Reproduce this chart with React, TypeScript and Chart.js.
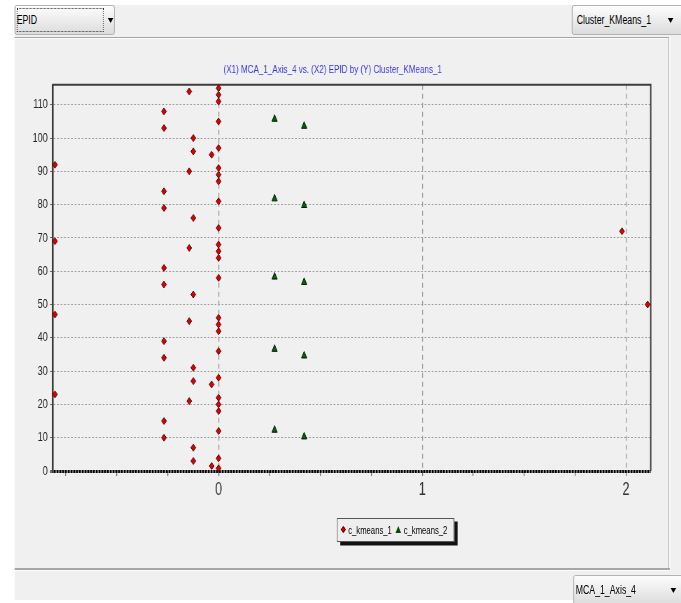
import React, { useEffect, useRef } from "react";
import { Chart, registerables } from "chart.js";

Chart.register(...registerables);

// ---------- data ----------
const chartTitle = "(X1) MCA_1_Axis_4 vs. (X2) EPID by (Y) Cluster_KMeans_1";
const seriesNames = ["c_kmeans_1", "c_kmeans_2"];
const xSelector = "EPID";
const ySelector = "Cluster_KMeans_1";
const axisSelector = "MCA_1_Axis_4";

const kmeans1X = [
  -0.803, -0.803, -0.803, -0.803,
  -0.268, -0.268, -0.268, -0.268, -0.268, -0.268, -0.268, -0.268, -0.268, -0.268,
  -0.144, -0.144, -0.144, -0.144, -0.144,
  -0.124, -0.124, -0.124, -0.124, -0.124, -0.124, -0.124, -0.124,
  -0.034, -0.034, -0.034,
  0, 0, 0, 0, 0, 0, 0, 0, 0, 0, 0, 0, 0, 0, 0, 0, 0, 0, 0, 0, 0, 0, 0, 0, 0,
  1.98, 2.106,
];
const kmeans1Y = [
  92, 69, 47, 23,
  108, 103, 84, 79, 61, 56, 39, 34, 15, 10,
  114, 90, 67, 45, 21,
  100, 96, 76, 53, 31, 27, 7, 3,
  95, 26, 1.5,
  115, 113, 111, 105, 97, 91, 89, 87, 81, 73, 68, 66, 64, 58, 46, 44, 42, 36, 28, 22, 20, 18, 12, 3.8, 0.8,
  72, 50,
];
const kmeans2X = [0.275, 0.42, 0.275, 0.42, 0.275, 0.42, 0.275, 0.42, 0.275, 0.42];
const kmeans2Y = [105.7, 103.6, 81.8, 79.8, 58.3, 56.7, 36.6, 34.6, 12.3, 10.3];

const xTicks = [-0.75, -0.5, -0.25, 0, 0.25, 0.5, 0.75, 1, 1.25, 1.5, 1.75, 2];
const xTickLabels = ["", "", "", "0", "", "", "", "1", "", "", "", "2"];
const yTicks = [0, 10, 20, 30, 40, 50, 60, 70, 80, 90, 100, 110];
const yTickLabels = ["0", "10", "20", "30", "40", "50", "60", "70", "80", "90", "100", "110"];
const xRange = [-0.814, 2.121];
const yRange = [0, 116];

// ---------- layout ----------
const SX = 0.7; // horizontal condensation of the whole picture
const ix = (px: number) => px / SX;
const FONT = "'Liberation Sans', Arial, sans-serif";

const CANVAS_W = 933;
const CANVAS_H = 530;

const framePlugin = {
  id: "frame",
  beforeDatasetsDraw(chart: any) {
    const { ctx, chartArea } = chart;
    const { left, right, top, bottom } = chartArea;
    ctx.save();
    ctx.strokeStyle = "#3c3c3c";
    ctx.lineWidth = 2;
    ctx.beginPath();
    ctx.moveTo(left, top);
    ctx.lineTo(right, top);
    ctx.lineTo(right, bottom);
    ctx.stroke();
    ctx.restore();
  },
};

function Dropdown(props: {
  x: number; y: number; w: number; h: number; label: string;
  textX: number; arrowX: number; focusW?: number;
}) {
  const { x, y, w, h, label, textX, arrowX, focusW } = props;
  return (
    <div
      style={{
        position: "absolute",
        left: ix(x),
        top: y,
        width: ix(w),
        height: h,
        boxSizing: "border-box",
        border: "1px solid #a8a8a8",
        borderRadius: 3,
        background: "linear-gradient(#fdfdfd, #dcdcdc)",
      }}
    >
      {focusW ? (
        <div
          style={{
            position: "absolute",
            left: ix(1),
            top: 2,
            width: ix(focusW),
            bottom: 2,
            boxSizing: "border-box",
            border: "1px dotted #333",
          }}
        />
      ) : null}
      <span
        style={{
          position: "absolute",
          left: ix(textX),
          top: 0,
          lineHeight: h - 2 + "px",
          fontSize: 12.5,
          color: "#000",
          whiteSpace: "nowrap",
        }}
      >
        {label}
      </span>
      <div
        style={{
          position: "absolute",
          left: ix(arrowX) - 4,
          top: (h - 2) / 2 - 2,
          width: 0,
          height: 0,
          borderLeft: "4px solid transparent",
          borderRight: "4px solid transparent",
          borderTop: "5px solid #000",
        }}
      />
    </div>
  );
}

export default function App() {
  const canvasRef = useRef<HTMLCanvasElement | null>(null);

  useEffect(() => {
    const canvas = canvasRef.current;
    if (!canvas) return;
    const chart = new Chart(canvas, {
      type: "scatter",
      data: {
        datasets: [
          {
            label: seriesNames[0],
            data: kmeans1X.map((x, i) => ({ x, y: kmeans1Y[i] })),
            pointStyle: "rectRot",
            pointRadius: 3.5,
            pointBackgroundColor: "#dd0000",
            pointBorderColor: "#4a0000",
            pointBorderWidth: 1,
            showLine: false,
            clip: false as any,
          },
          {
            label: seriesNames[1],
            data: kmeans2X.map((x, i) => ({ x, y: kmeans2Y[i] })),
            pointStyle: "triangle",
            pointRadius: 4.4,
            pointBackgroundColor: "#006400",
            pointBorderColor: "#001a00",
            pointBorderWidth: 1,
            showLine: false,
            clip: false as any,
          },
        ],
      },
      options: {
        animation: false,
        responsive: false,
        maintainAspectRatio: false,
        events: [],
        layout: { padding: { left: 0, right: 24.4, top: 0, bottom: 0 } },
        plugins: {
          legend: { display: false },
          tooltip: { enabled: false },
          title: {
            display: true,
            text: chartTitle,
            color: "#3535f5",
            font: { family: FONT, size: 11.5, weight: "normal" as any, lineHeight: 1.2 },
            padding: { top: 25, bottom: 8 },
          },
        },
        scales: {
          x: {
            type: "linear",
            min: xRange[0],
            max: xRange[1],
            afterBuildTicks: (s: any) => {
              s.ticks = xTicks.map((v) => ({ value: v }));
            },
            afterFit: (s: any) => {
              s.height = 97;
            },
            ticks: {
              autoSkip: false,
              maxRotation: 0,
              padding: 3,
              color: "#333",
              font: { family: FONT, size: 18 },
              callback: (_v: any, i: number) => xTickLabels[i],
            },
            grid: {
              color: (ctx: any) => (xTickLabels[ctx.index] ? "#9a9a9a" : "rgba(0,0,0,0)"),
              lineWidth: 1.3,
              tickColor: "#777",
              tickLength: 5,
              tickWidth: 1.3,
            },
            border: { display: false, dash: [5, 4] },
          },
          y: {
            type: "linear",
            min: yRange[0],
            max: yRange[1],
            afterBuildTicks: (s: any) => {
              s.ticks = yTicks.map((v) => ({ value: v }));
            },
            afterFit: (s: any) => {
              s.width = 54.3;
            },
            ticks: {
              autoSkip: false,
              padding: 3,
              color: "#222",
              font: { family: FONT, size: 13 },
              callback: (_v: any, i: number) => yTickLabels[i],
            },
            grid: {
              color: (ctx: any) => (ctx.tick && ctx.tick.value === 0 ? "#000" : "#9a9a9a"),
              lineWidth: (ctx: any) => (ctx.tick && ctx.tick.value === 0 ? 3 : 1),
              tickColor: "#666",
              tickLength: 4,
            },
            border: {
              display: true,
              color: "#3c3c3c",
              width: 2.6,
              dash: (ctx: any) => (ctx.tick && ctx.tick.value === 0 ? [3, 1] : [2.5, 2.5]),
            } as any,
          },
        },
      },
      plugins: [framePlugin],
    });
    return () => chart.destroy();
  }, []);

  return (
    <div
      style={{
        position: "fixed",
        left: 0,
        top: 0,
        width: 681,
        height: 603,
        overflow: "hidden",
        background: "#ffffff",
      }}
    >
      <div
        style={{
          position: "absolute",
          left: 0,
          top: 0,
          width: ix(681),
          height: 603,
          transform: `scaleX(${SX})`,
          transformOrigin: "0 0",
          fontFamily: FONT,
        }}
      >
        {/* grey window */}
        <div style={{ position: "absolute", left: ix(15), top: 5, width: ix(666), height: 595, background: "#f0f0f0" }} />
        {/* top separator */}
        <div style={{ position: "absolute", left: ix(15), top: 37, width: ix(654), height: 1, background: "#a6a6a6" }} />
        <div style={{ position: "absolute", left: ix(15), top: 38, width: ix(654), height: 1, background: "#fbfbfb" }} />
        {/* right border of panel */}
        <div style={{ position: "absolute", left: ix(668.5), top: 37, width: ix(1), height: 533, background: "#a6a6a6" }} />
        <div style={{ position: "absolute", left: ix(669.5), top: 37, width: ix(1), height: 533, background: "#fbfbfb" }} />
        {/* bottom separator */}
        <div style={{ position: "absolute", left: ix(15), top: 568, width: ix(655), height: 2, background: "#a6a6a6" }} />
        <div style={{ position: "absolute", left: ix(15), top: 570, width: ix(655), height: 1, background: "#fbfbfb" }} />

        <Dropdown x={15} y={5} w={100} h={30} label={xSelector} textX={1} arrowX={95} focusW={87} />
        <Dropdown x={572} y={5} w={115} h={30} label={ySelector} textX={4} arrowX={98} />
        <Dropdown x={573} y={575} w={115} h={30} label={axisSelector} textX={2} arrowX={100} />

        <canvas
          ref={canvasRef}
          width={CANVAS_W}
          height={CANVAS_H}
          style={{
            position: "absolute",
            left: ix(15),
            top: 38,
            width: CANVAS_W,
            height: CANVAS_H,
            display: "block",
          }}
        />

        {/* legend */}
        <div
          style={{
            position: "absolute",
            left: ix(337),
            top: 518,
            width: ix(117),
            height: 24,
            boxSizing: "border-box",
            border: "1px solid #555",
            background: "#eeeeee",
            boxShadow: `${ix(3.5)}px 3.5px 0 #111`,
          }}
        >
          <div
            style={{
              position: "absolute",
              left: ix(5.5) - 2.5,
              top: 11 - 2.5 - 1,
              width: 5,
              height: 5,
              boxSizing: "border-box",
              background: "#dd0000",
              border: "1px solid #4a0000",
              transform: "rotate(45deg)",
            }}
          />
          <span
            style={{
              position: "absolute",
              left: ix(10.5),
              top: 0,
              lineHeight: "22px",
              fontSize: 11,
              color: "#000",
              whiteSpace: "nowrap",
            }}
          >
            {seriesNames[0]}
          </span>
          <div
            style={{
              position: "absolute",
              left: ix(60.5) - 4,
              top: 7,
              width: 0,
              height: 0,
              borderLeft: "4px solid transparent",
              borderRight: "4px solid transparent",
              borderBottom: "7px solid #005000",
            }}
          />
          <span
            style={{
              position: "absolute",
              left: ix(66),
              top: 0,
              lineHeight: "22px",
              fontSize: 11,
              color: "#000",
              whiteSpace: "nowrap",
            }}
          >
            {seriesNames[1]}
          </span>
        </div>
      </div>
    </div>
  );
}
